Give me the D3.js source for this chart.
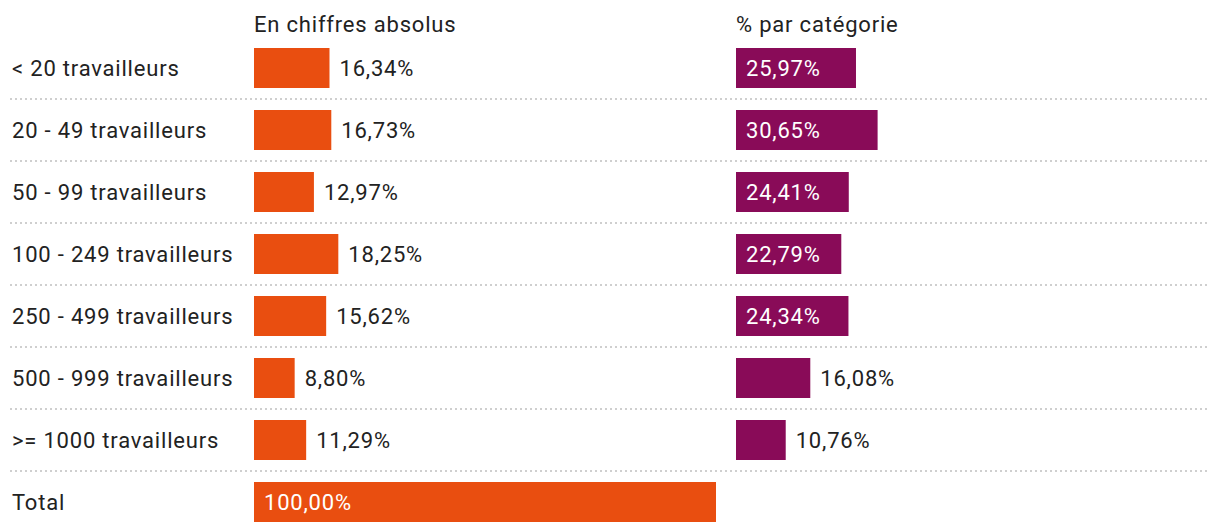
<!DOCTYPE html>
<html lang="fr">
<head>
<meta charset="UTF-8">
<title>Travailleurs par taille d'entreprise</title>
<script src="https://d3js.org/d3.v7.min.js"></script>
<style>
    body {
        margin: 0;
        background: #fff;
        font-family: Roboto, 'Noto Sans', sans-serif;
    }
    svg text {
        font-size: 22px;
        letter-spacing: 0.8px;
        fill: #222;
    }
    .sep {
        stroke: #cfcfcf;
        stroke-width: 2;
        stroke-dasharray: 2 3;
    }
</style>
</head>
<body>
<svg id="chart" width="1220" height="532"></svg>
<script>
    var categories = [
        "< 20 travailleurs",
        "20 - 49 travailleurs",
        "50 - 99 travailleurs",
        "100 - 249 travailleurs",
        "250 - 499 travailleurs",
        "500 - 999 travailleurs",
        ">= 1000 travailleurs",
        "Total"
    ];
    var absolus = [16.34, 16.73, 12.97, 18.25, 15.62, 8.80, 11.29, 100.00];
    var parCategorie = [25.97, 30.65, 24.41, 22.79, 24.34, 16.08, 10.76, null];
    var columnTitles = ["En chiffres absolus", "% par catégorie"];

    var svg = d3.select('#chart');

    var y = d3.scaleBand()
        .domain(categories)
        .range([37, 533])
        .paddingInner(0)
        .paddingOuter(0);

    var barH = 40;

    // same scale for both columns, different origins
    var w = d3.scaleLinear().domain([0, 100]).range([0, 462]);
    var columns = [
        { x0: 254, values: absolus, color: "#e94e10", title: columnTitles[0] },
        { x0: 736, values: parCategorie, color: "#890b58", title: columnTitles[1] }
    ];

    var fmt = function (v) {
        return d3.format(".2f")(v).replace('.', ',') + '%';
    };

    // separators
    svg.append('g')
        .selectAll('line')
        .data(categories.slice(1))
        .enter()
        .append('line')
        .attr('class', 'sep')
        .attr('x1', 10)
        .attr('x2', 1210)
        .attr('y1', function (d) { return y(d); })
        .attr('y2', function (d) { return y(d); });

    // row labels
    svg.append('g')
        .selectAll('text')
        .data(categories)
        .enter()
        .append('text')
        .attr('x', 12)
        .attr('y', function (d) { return y(d) + y.bandwidth() / 2; })
        .attr('dy', '0.35em')
        .text(function (d) { return d; });

    columns.forEach(function (col) {
        svg.append('text')
            .attr('x', col.x0)
            .attr('y', 32)
            .text(col.title);

        var rows = categories.map(function (c, i) { return { cat: c, v: col.values[i] }; })
            .filter(function (d) { return d.v !== null; });

        var g = svg.append('g');

        g.selectAll('rect')
            .data(rows)
            .enter()
            .append('rect')
            .attr('x', col.x0)
            .attr('y', function (d) { return y(d.cat) + (y.bandwidth() - barH) / 2; })
            .attr('width', function (d) { return w(d.v); })
            .attr('height', barH)
            .attr('fill', col.color);

        g.selectAll('text')
            .data(rows)
            .enter()
            .append('text')
            .attr('x', function (d) {
                var bw = w(d.v);
                return bw > 95 ? col.x0 + 10 : col.x0 + bw + 10;
            })
            .attr('y', function (d) { return y(d.cat) + y.bandwidth() / 2; })
            .attr('dy', '0.35em')
            .style('fill', function (d) { return w(d.v) > 95 ? '#fff' : '#222'; })
            .text(function (d) { return fmt(d.v); });
    });
</script>
</body>
</html>
